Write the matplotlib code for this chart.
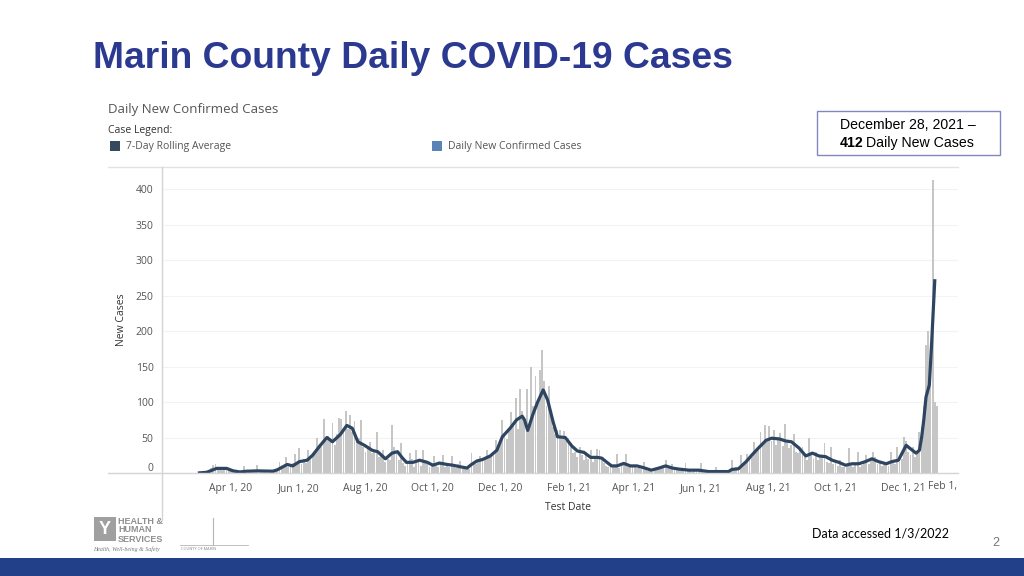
import matplotlib
matplotlib.use('Agg')
import matplotlib.pyplot as plt
from matplotlib.patches import Rectangle
from matplotlib.lines import Line2D
from matplotlib.transforms import ScaledTranslation
import pandas as pd

# Daily new confirmed cases, one value every 2nd day starting Mar 2, 2020
cases_2020 = [
    0, 0, 1, 1, 2, 4, 7, 11, 13, 8, 9, 6, 8, 5, 4,              # Mar
    5, 3, 2, 1, 2, 3, 10, 4, 2, 3, 2, 4, 11, 3, 2,              # Apr
    3, 2, 4, 1, 3, 2, 5, 16, 6, 10, 23, 8, 13, 14, 27, 12,      # May
    35, 12, 20, 14, 33, 22, 28, 30, 49, 36, 40, 76, 45, 52, 45, # Jun
    70, 40, 55, 77, 76, 60, 87, 62, 82, 58, 73, 44, 50, 75, 36, # Jul
    30, 38, 44, 28, 33, 58, 22, 25, 33, 15, 20, 18, 68, 37, 30, 18,  # Aug
    42, 14, 10, 12, 28, 20, 8, 32, 15, 10, 32, 18, 12, 9, 14,   # Sep
    24, 10, 8, 12, 25, 9, 11, 8, 24, 9, 7, 12, 17, 6, 8,        # Oct
    9, 6, 28, 14, 12, 16, 24, 18, 20, 32, 22, 26, 30, 47, 35,   # Nov
    40, 75, 55, 48, 62, 86, 70, 105, 62, 119, 88, 72, 119, 60, 150, 95,  # Dec
]
cases_2021 = [
    136, 100, 145, 173, 130, 95, 122, 80, 65, 55, 60, 61, 48, 59, 45,  # Jan
    50, 42, 28, 30, 22, 37, 25, 18, 30, 20, 32, 15, 24, 34,     # Feb
    32, 18, 14, 10, 8, 12, 9, 11, 27, 7, 10, 12, 27, 9, 8, 11,  # Mar
    9, 7, 8, 6, 15, 5, 3, 4, 2, 6, 5, 9, 8, 10, 18,             # Apr
    8, 6, 12, 7, 5, 4, 3, 4, 14, 3, 5, 2, 6, 3, 4,              # May
    14, 3, 2, 4, 1, 3, 2, 9, 1, 3, 2, 1, 2, 3, 18,              # Jun
    5, 8, 6, 25, 10, 14, 27, 18, 22, 44, 30, 35, 58, 40, 68, 45,  # Jul
    66, 45, 61, 40, 48, 56, 38, 69, 42, 35, 40, 55, 30, 28, 32, # Aug
    37, 22, 18, 49, 25, 20, 30, 18, 22, 26, 42, 15, 14, 37, 12, # Sep
    14, 10, 18, 8, 9, 12, 35, 10, 8, 12, 30, 9, 11, 14, 26, 12, # Oct
    18, 30, 22, 12, 14, 10, 13, 15, 10, 30, 14, 12, 37, 16, 20, # Nov
    51, 45, 30, 25, 37, 22, 28, 58, 65, 95, 180, 200, 140, 412, 100,  # Dec
]
cases_2022 = [95]

# 7-day rolling average
avg_dates = [
    '2020-03-02', '2020-03-10', '2020-03-15', '2020-03-19', '2020-03-28',
    '2020-04-03', '2020-04-09', '2020-04-15', '2020-04-25', '2020-05-09',
    '2020-05-13', '2020-05-22', '2020-05-27', '2020-06-02', '2020-06-09',
    '2020-06-14', '2020-06-21', '2020-06-27', '2020-07-02', '2020-07-09',
    '2020-07-15', '2020-07-20', '2020-07-25', '2020-07-31', '2020-08-07',
    '2020-08-12', '2020-08-19', '2020-08-25', '2020-08-30', '2020-09-03',
    '2020-09-07', '2020-09-13', '2020-09-19', '2020-09-26', '2020-10-01',
    '2020-10-07', '2020-10-14', '2020-10-19', '2020-10-25', '2020-11-01',
    '2020-11-05', '2020-11-10', '2020-11-15', '2020-11-22', '2020-11-28',
    '2020-12-03', '2020-12-10', '2020-12-16', '2020-12-21', '2020-12-23',
    '2020-12-26', '2020-12-31', '2021-01-04', '2021-01-09', '2021-01-13',
    '2021-01-18', '2021-01-22', '2021-01-29', '2021-02-04', '2021-02-09',
    '2021-02-15', '2021-02-21', '2021-02-27', '2021-03-03', '2021-03-07',
    '2021-03-12', '2021-03-17', '2021-03-23', '2021-03-29', '2021-04-04',
    '2021-04-10', '2021-04-17', '2021-04-24', '2021-04-30', '2021-05-06',
    '2021-05-12', '2021-05-21', '2021-05-30', '2021-06-08', '2021-06-26',
    '2021-06-29', '2021-07-05', '2021-07-12', '2021-07-17', '2021-07-23',
    '2021-07-30', '2021-08-04', '2021-08-11', '2021-08-17', '2021-08-22',
    '2021-08-29', '2021-09-04', '2021-09-10', '2021-09-16', '2021-09-22',
    '2021-09-28', '2021-10-04', '2021-10-10', '2021-10-16', '2021-10-22',
    '2021-10-28', '2021-11-03', '2021-11-09', '2021-11-16', '2021-11-21',
    '2021-11-27', '2021-12-04', '2021-12-08', '2021-12-13', '2021-12-16',
    '2021-12-18', '2021-12-20', '2021-12-22', '2021-12-25', '2021-12-27',
    '2021-12-30',
]
avg_values = [
    0, 1, 4, 6.5, 6.5,
    3, 1.5, 2.5, 3, 2.5,
    4.5, 12, 10, 16, 18,
    25, 39, 50, 44, 54,
    67, 63, 44, 39, 32,
    30, 20, 28, 30, 22,
    15, 15, 18, 15, 11,
    14, 12, 11, 9, 7,
    12, 17, 19, 24, 32,
    51, 63, 75, 80, 75,
    60, 84, 100, 117, 103,
    72, 51, 50, 38, 31,
    29, 22, 22, 21, 16,
    10, 10, 13.5, 10, 10,
    7.5, 4, 7, 10, 7,
    5.5, 4, 4, 2, 2,
    5, 6, 16, 25, 35,
    46, 49, 48, 45, 44,
    35, 24, 28, 24, 23,
    18, 15, 11, 13, 13,
    16, 20, 16, 13, 16,
    18, 39, 34, 28, 32,
    50, 75, 107, 124, 180,
    273,
]

tick_dates = ['2020-04-01', '2020-06-01', '2020-08-01', '2020-10-01', '2020-12-01',
              '2021-02-01', '2021-04-01', '2021-06-01', '2021-08-01', '2021-10-01',
              '2021-12-01']
tick_labels = ['Apr 1, 20', 'Jun 1, 20', 'Aug 1, 20', 'Oct 1, 20', 'Dec 1, 20',
               'Feb 1, 21', 'Apr 1, 21', 'Jun 1, 21', 'Aug 1, 21', 'Oct 1, 21',
               'Dec 1, 21']
y_ticks = [0, 50, 100, 150, 200, 250, 300, 350, 400]

cases = cases_2020 + cases_2021 + cases_2022
bar_dates = pd.date_range('2020-03-02', periods=len(cases), freq='2D')
line_dates = pd.to_datetime(avg_dates)

W, H = 1024, 576
def fx(px):
    return px / W
def fy(py):
    return 1 - py / H

plt.rcParams['font.family'] = ['Open Sans', 'DejaVu Sans']

fig = plt.figure(figsize=(10.24, 5.76), dpi=100)
fig.patch.set_facecolor('white')

# chart area
ax = fig.add_axes([fx(162), fy(473), (958 - 162) / W, (473 - 167) / H])
ax.bar(bar_dates, cases, width=1.7, color='#c6c6c6', linewidth=0, zorder=2)
ax.plot(line_dates, avg_values, color='#2e4561', lw=2.3, zorder=3,
        solid_joinstyle='round', solid_capstyle='butt')

start = pd.Timestamp('2020-04-01')
ax.set_xlim(start - pd.Timedelta(days=62.5), start + pd.Timedelta(days=659))
ax.set_ylim(0, 431)
for s in ax.spines.values():
    s.set_visible(False)

ax.set_yticks(y_ticks)
ax.set_yticklabels([str(v) for v in y_ticks])
ax.set_xticks(pd.to_datetime(tick_dates))
ax.set_xticklabels(tick_labels)
ax.tick_params(axis='both', length=0, labelsize=7.5, labelcolor='#555555')
ax.tick_params(axis='y', pad=6)
ax.tick_params(axis='x', pad=7)
ax.grid(axis='y', color='#f3f3f3', lw=0.8, zorder=0)
ax.set_axisbelow(True)

# bottom "0" label sits a little above the baseline
zero_lbl = ax.get_yticklabels()[0]
zero_lbl.set_transform(zero_lbl.get_transform() + ScaledTranslation(0, 6 / 100, fig.dpi_scale_trans))

# frame lines of the dashboard
fig.add_artist(Line2D([fx(108), fx(958)], [fy(473), fy(473)], color='#d4d4d4', lw=1))
fig.add_artist(Line2D([fx(108), fx(958)], [fy(167), fy(167)], color='#e2e2e2', lw=1))
fig.add_artist(Line2D([fx(162), fx(162)], [fy(167), fy(520)], color='#d4d4d4', lw=1))

fig.text(fx(943), fy(487), 'Feb 1,', fontsize=7.5, color='#555555', ha='center', va='center')
fig.text(fx(122), fy(320), 'New Cases', fontsize=7.5, color='#333333', rotation=90,
         ha='center', va='center')
fig.text(fx(568), fy(507), 'Test Date', fontsize=7.5, color='#333333', ha='center', va='center')

# headers and legend
fig.text(fx(108), fy(109), 'Daily New Confirmed Cases', fontsize=9.5, color='#555555', va='center')
fig.text(fx(108), fy(130), 'Case Legend:', fontsize=7.5, color='#333333', va='center')
fig.add_artist(Rectangle((fx(110), fy(151)), 10 / W, 10 / H, transform=fig.transFigure,
                         facecolor='#34495e', edgecolor='none'))
fig.text(fx(126), fy(146), '7-Day Rolling Average', fontsize=7.5, color='#555555', va='center')
fig.add_artist(Rectangle((fx(432), fy(151)), 10 / W, 10 / H, transform=fig.transFigure,
                         facecolor='#5b83b6', edgecolor='none'))
fig.text(fx(448), fy(146), 'Daily New Confirmed Cases', fontsize=7.5, color='#555555', va='center')

# slide title
fig.text(fx(93), fy(58), 'Marin County Daily COVID-19 Cases', fontsize=26.8, fontweight='bold',
         color='#2b3990', family='Liberation Sans', va='center')

# callout box
fig.add_artist(Rectangle((fx(817), fy(155)), (1000 - 817) / W, (155 - 111) / H,
                         transform=fig.transFigure, facecolor='white', edgecolor='#8088c0', lw=1))
fig.text(fx(908), fy(125), 'December 28, 2021 \u2013', fontsize=10.2, family='Liberation Sans',
         ha='center', va='center')
fig.text(fx(863), fy(143), '412', fontsize=10.2, family='Liberation Sans', fontweight='bold',
         ha='right', va='center')
fig.text(fx(866), fy(143), 'Daily New Cases', fontsize=10.2, family='Liberation Sans',
         ha='left', va='center')

# footer
fig.text(fx(812), fy(533), 'Data accessed 1/3/2022', fontsize=9, family='Lato', va='center')
fig.text(fx(996), fy(543), '2', fontsize=9, color='#777777', family='Liberation Sans',
         ha='center', va='center')
fig.add_artist(Rectangle((0, 0), 1, 18 / H, transform=fig.transFigure,
                         facecolor='#22408a', edgecolor='none'))

# logos (rough text stand-ins)
fig.add_artist(Rectangle((fx(94), fy(541)), 22 / W, 24 / H, transform=fig.transFigure,
                         facecolor='#a0a0a0', edgecolor='none'))
fig.text(fx(105), fy(529), 'Y', fontsize=13, fontweight='bold', color='white',
         family='Liberation Sans', ha='center', va='center')
for txt, yy in [('HEALTH &', 521), ('HUMAN', 530), ('SERVICES', 539)]:
    fig.text(fx(118), fy(yy), txt, fontsize=6.5, fontweight='bold', color='#8f8f8f',
             family='Liberation Sans', va='center')
fig.text(fx(93), fy(549), 'Health, Well-being & Safety', fontsize=4.2, style='italic',
         color='#777777', family='Liberation Serif', va='center')
fig.add_artist(Line2D([fx(180), fx(248)], [fy(545), fy(545)], color='#b5b5b5', lw=0.6))
fig.add_artist(Line2D([fx(213), fx(213)], [fy(518), fy(545)], color='#b5b5b5', lw=0.8))
fig.text(fx(181), fy(549), 'COUNTY OF MARIN', fontsize=2.8, color='#888888', va='center')

fig.savefig('out.png', dpi=100)
